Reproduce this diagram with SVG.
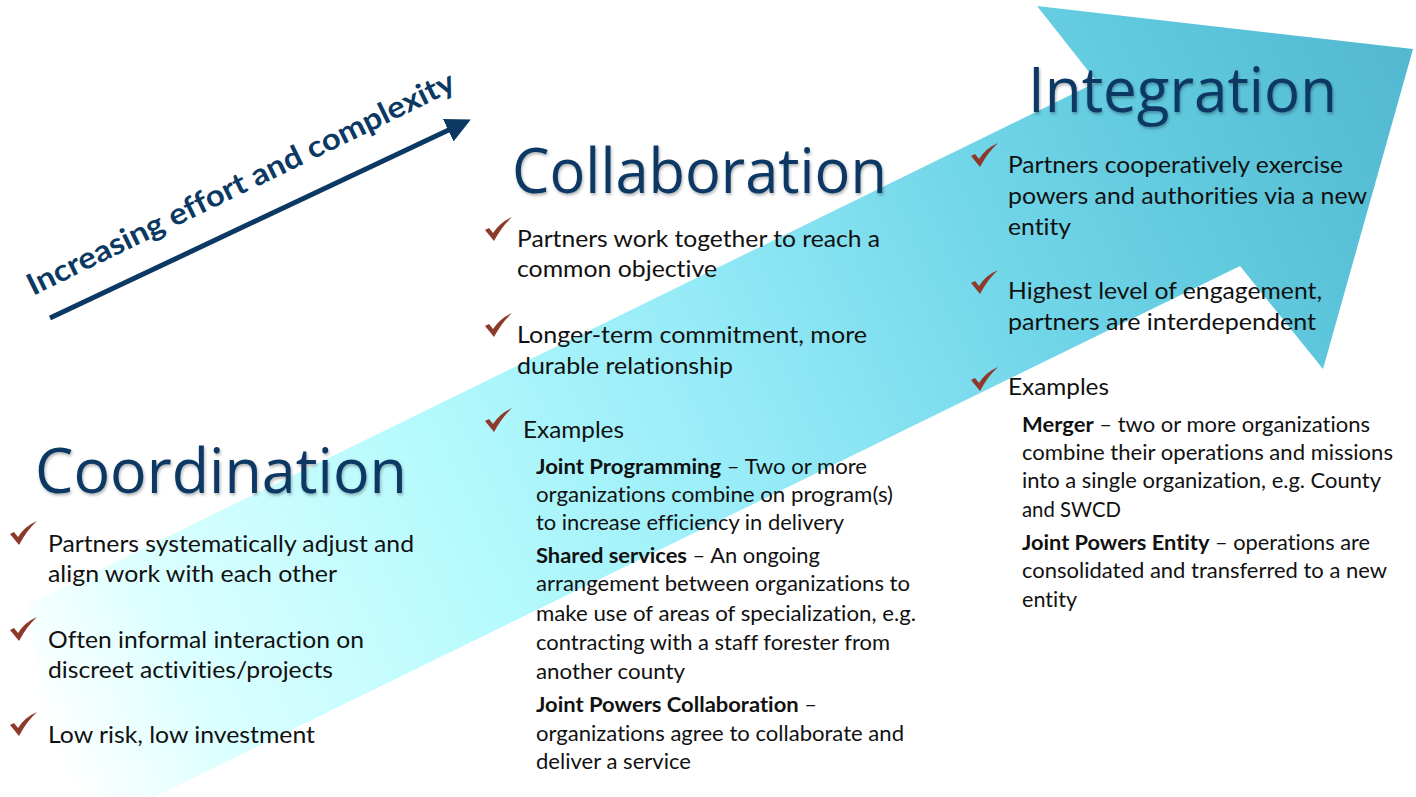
<svg xmlns="http://www.w3.org/2000/svg" xmlns:xlink="http://www.w3.org/1999/xlink" width="1416" height="797" viewBox="0 0 1416 797">
<style>
text{font-variant-ligatures:none;font-feature-settings:"liga" 0,"dlig" 0}
.title{font-family:"Open Sans",Lato,"Liberation Sans",sans-serif;font-size:62px;fill:#0b3963;filter:url(#sh)}
.body{font-family:Lato,"Open Sans","Liberation Sans",sans-serif;font-size:23px;fill:#111111}
.sub{font-family:Lato,"Open Sans","Liberation Sans",sans-serif;font-size:21px;fill:#111111}
.b{font-weight:bold}
.trend{font-family:Lato,"Open Sans","Liberation Sans",sans-serif;font-size:30px;font-weight:bold;fill:#0b3963}
.chk{fill:#8e3a2b}
</style>
<defs>
<linearGradient id="ag" gradientUnits="userSpaceOnUse" x1="30" y1="700" x2="1410" y2="60">
<stop offset="0" stop-color="#ffffff"/>
<stop offset="0.1" stop-color="#dcffff"/>
<stop offset="0.3" stop-color="#b6fafd"/>
<stop offset="0.5" stop-color="#96ebf7"/>
<stop offset="0.7" stop-color="#72d6e9"/>
<stop offset="0.85" stop-color="#5fc8dd"/>
<stop offset="1" stop-color="#52b9d0"/>
</linearGradient>
<filter id="sh" x="-5%" y="-20%" width="110%" height="150%">
<feDropShadow dx="1" dy="2" stdDeviation="1.5" flood-color="#000" flood-opacity="0.3"/>
</filter>
<marker id="ah" markerWidth="5" markerHeight="5" refX="1.5" refY="2.5" orient="auto" markerUnits="strokeWidth" viewBox="0 0 5 5">
<path d="M0,0 L5,2.5 L0,5 Z" fill="#0b3963"/>
</marker>
<path id="chk" d="M0,13 L4,11 L8,16 Q15,5 27,0 Q17,9 9,24 Z"/>
</defs>

<g id="big-arrow">
<polygon points="28,605 1097,82 1037,6 1413,49 1323,369 1240,266 148,800 55,800" fill="url(#ag)"/>
</g>

<g id="connectors">
<line x1="50" y1="318" x2="455" y2="127" stroke="#0b3963" stroke-width="5" marker-end="url(#ah)"/>
</g>

<g id="trend-label">
<text class="trend" x="33" y="296" transform="rotate(-26 33 296)" textLength="472" lengthAdjust="spacingAndGlyphs">Increasing effort and complexity</text>
</g>

<g id="coordination">
<text class="title" x="35" y="493" textLength="372" lengthAdjust="spacingAndGlyphs">Coordination</text>
<use href="#chk" class="chk" x="10" y="521"/>
<use href="#chk" class="chk" x="10" y="617"/>
<use href="#chk" class="chk" x="10" y="712"/>
<text class="body" x="48" y="552" textLength="366" lengthAdjust="spacingAndGlyphs">Partners systematically adjust and</text>
<text class="body" x="48" y="582" textLength="289" lengthAdjust="spacingAndGlyphs">align work with each other</text>
<text class="body" x="48" y="648" textLength="316" lengthAdjust="spacingAndGlyphs">Often informal interaction on</text>
<text class="body" x="48" y="678" textLength="285" lengthAdjust="spacingAndGlyphs">discreet activities/projects</text>
<text class="body" x="48" y="743" textLength="267" lengthAdjust="spacingAndGlyphs">Low risk, low investment</text>
</g>

<g id="collaboration">
<text class="title" x="512" y="193" textLength="375" lengthAdjust="spacingAndGlyphs">Collaboration</text>
<use href="#chk" class="chk" x="485" y="217"/>
<use href="#chk" class="chk" x="485" y="313"/>
<use href="#chk" class="chk" x="485" y="408"/>
<text class="body" x="517" y="247" textLength="363" lengthAdjust="spacingAndGlyphs">Partners work together to reach a</text>
<text class="body" x="517" y="277" textLength="200" lengthAdjust="spacingAndGlyphs">common objective</text>
<text class="body" x="517" y="343" textLength="350" lengthAdjust="spacingAndGlyphs">Longer-term commitment, more</text>
<text class="body" x="517" y="374" textLength="216" lengthAdjust="spacingAndGlyphs">durable relationship</text>
<text class="body" x="523" y="438" textLength="101" lengthAdjust="spacingAndGlyphs">Examples</text>
<text class="sub" x="536" y="474" textLength="331" lengthAdjust="spacingAndGlyphs"><tspan class="b">Joint Programming</tspan> – Two or more</text>
<text class="sub" x="536" y="502" textLength="357" lengthAdjust="spacingAndGlyphs">organizations combine on program(s)</text>
<text class="sub" x="536" y="530" textLength="308" lengthAdjust="spacingAndGlyphs">to increase efficiency in delivery</text>
<text class="sub" x="536" y="563" textLength="284" lengthAdjust="spacingAndGlyphs"><tspan class="b">Shared services</tspan> – An ongoing</text>
<text class="sub" x="536" y="591" textLength="374" lengthAdjust="spacingAndGlyphs">arrangement between organizations to</text>
<text class="sub" x="536" y="621" textLength="380" lengthAdjust="spacingAndGlyphs">make use of areas of specialization, e.g.</text>
<text class="sub" x="536" y="650" textLength="354" lengthAdjust="spacingAndGlyphs">contracting with a staff forester from</text>
<text class="sub" x="536" y="679" textLength="149" lengthAdjust="spacingAndGlyphs">another county</text>
<text class="sub" x="536" y="712" textLength="281" lengthAdjust="spacingAndGlyphs"><tspan class="b">Joint Powers Collaboration</tspan> –</text>
<text class="sub" x="536" y="741" textLength="368" lengthAdjust="spacingAndGlyphs">organizations agree to collaborate and</text>
<text class="sub" x="536" y="769" textLength="155" lengthAdjust="spacingAndGlyphs">deliver a service</text>
</g>

<g id="integration">
<text class="title" x="1028" y="112" textLength="309" lengthAdjust="spacingAndGlyphs">Integration</text>
<use href="#chk" class="chk" x="971" y="143"/>
<use href="#chk" class="chk" x="971" y="270"/>
<use href="#chk" class="chk" x="971" y="367"/>
<text class="body" x="1008" y="173" textLength="335" lengthAdjust="spacingAndGlyphs">Partners cooperatively exercise</text>
<text class="body" x="1008" y="204" textLength="359" lengthAdjust="spacingAndGlyphs">powers and authorities via a new</text>
<text class="body" x="1008" y="235" textLength="63" lengthAdjust="spacingAndGlyphs">entity</text>
<text class="body" x="1008" y="299" textLength="314" lengthAdjust="spacingAndGlyphs">Highest level of engagement,</text>
<text class="body" x="1008" y="330" textLength="308" lengthAdjust="spacingAndGlyphs">partners are interdependent</text>
<text class="body" x="1008" y="395" textLength="101" lengthAdjust="spacingAndGlyphs">Examples</text>
<text class="sub" x="1022" y="432" textLength="348" lengthAdjust="spacingAndGlyphs"><tspan class="b">Merger</tspan> – two or more organizations</text>
<text class="sub" x="1022" y="460" textLength="371" lengthAdjust="spacingAndGlyphs">combine their operations and missions</text>
<text class="sub" x="1022" y="488" textLength="359" lengthAdjust="spacingAndGlyphs">into a single organization, e.g. County</text>
<text class="sub" x="1022" y="517" textLength="99" lengthAdjust="spacingAndGlyphs">and SWCD</text>
<text class="sub" x="1022" y="550" textLength="348" lengthAdjust="spacingAndGlyphs"><tspan class="b">Joint Powers Entity</tspan> – operations are</text>
<text class="sub" x="1022" y="578" textLength="365" lengthAdjust="spacingAndGlyphs">consolidated and transferred to a new</text>
<text class="sub" x="1022" y="607" textLength="55" lengthAdjust="spacingAndGlyphs">entity</text>
</g>
</svg>
